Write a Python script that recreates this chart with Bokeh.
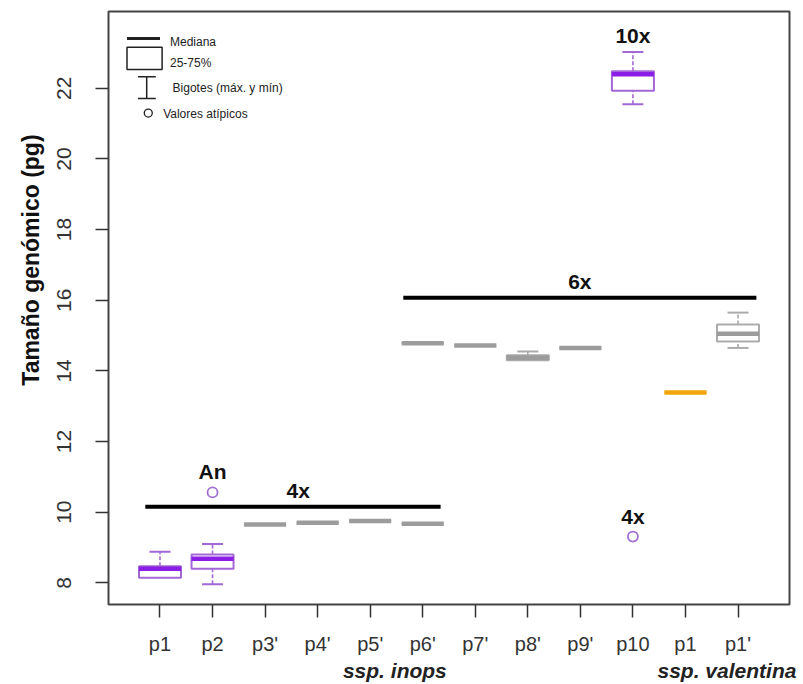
from bokeh.plotting import figure
from bokeh.models import Range1d, FixedTicker, Label, LinearAxis
from bokeh.embed import file_html
from bokeh.resources import INLINE

# ---- data ----
tick_labels = ["p1", "p2", "p3'", "p4'", "p5'", "p6'", "p7'", "p8'", "p9'", "p10", "p1", "p1'"]
box_pos = [1, 2, 3, 4, 5, 6, 6, 7, 8, 9, 10, 11, 12]
box_min = [8.14, 7.96, 9.65, 9.70, 9.75, 9.67, 14.78, 14.72, 14.30, 14.65, 21.55, 13.39, 14.65]
box_q1 = [8.14, 8.40, 9.65, 9.70, 9.75, 9.67, 14.78, 14.72, 14.30, 14.65, 21.93, 13.39, 14.83]
box_med = [8.40, 8.68, 9.65, 9.70, 9.75, 9.67, 14.78, 14.72, 14.37, 14.65, 22.40, 13.39, 15.05]
box_q3 = [8.47, 8.80, 9.65, 9.70, 9.75, 9.67, 14.78, 14.72, 14.44, 14.65, 22.48, 13.39, 15.31]
box_max = [8.88, 9.10, 9.65, 9.70, 9.75, 9.67, 14.78, 14.72, 14.55, 14.65, 23.03, 13.39, 15.65]
box_group = ["purple", "purple", "gray", "gray", "gray", "gray", "gray", "gray", "gray", "gray", "purple", "orange", "gray"]

outlier_pos = [2, 10]
outlier_val = [10.56, 9.31]
outlier_labels = ["An", "4x"]

ploidy_labels = ["4x", "6x"]
ploidy_level = [10.15, 16.07]
ploidy_start = [0.72, 5.63]
ploidy_end = [6.34, 12.35]
ploidy_label_x = [3.63, 8.99]
top_label = "10x"

subspecies = ["ssp. inops", "ssp. valentina"]
subspecies_x = [5.47, 11.79]

y_title = "Tamaño genómico (pg)"
legend_texts = ["Mediana", "25-75%", "Bigotes (máx. y mín)", "Valores atípicos"]

# ---- styles ----
border_col = {"purple": "#a368d6", "gray": "#ababab", "orange": "#f2a50c"}
median_col = {"purple": "#8a1ee6", "gray": "#9c9c9c", "orange": "#f2a50c"}
FONT = "'Liberation Sans', Arial, sans-serif"

p = figure(width=801, height=684, output_backend="svg", toolbar_location=None,
           x_range=Range1d(0.02, 12.98), y_range=Range1d(7.386, 24.175),
           min_border_left=108, min_border_top=11, min_border_right=12, min_border_bottom=71)
p.xgrid.visible = False
p.ygrid.visible = False
p.outline_line_color = "#444444"
p.outline_line_width = 2
p.background_fill_color = "white"

# axes
p.xaxis.ticker = FixedTicker(ticks=list(range(1, len(tick_labels) + 1)))
p.xaxis.major_label_overrides = {i + 1: t for i, t in enumerate(tick_labels)}
p.yaxis.ticker = FixedTicker(ticks=[8, 10, 12, 14, 16, 18, 20, 22])
for ax in (p.xaxis[0], p.yaxis[0]):
    ax.axis_line_color = None
    ax.major_tick_line_color = "#333333"
    ax.major_tick_line_width = 1.5
    ax.major_tick_out = 13
    ax.major_tick_in = 0
    ax.minor_tick_line_color = None
    ax.major_label_text_font = FONT
    ax.major_label_text_color = "#333333"
p.xaxis.major_label_text_font_size = "20px"
p.yaxis.major_label_text_font_size = "21px"
p.xaxis.major_label_standoff = 15
p.yaxis.major_label_orientation = "vertical"
p.yaxis.major_label_standoff = 24
# leading no-break spaces shift the centred title up, as in the reference
p.yaxis.axis_label = "\u00a0" * 15 + y_title
p.yaxis.axis_label_text_font = FONT
p.yaxis.axis_label_text_font_style = "bold"
p.yaxis.axis_label_text_font_size = "23px"
p.yaxis.axis_label_text_color = "#111111"
p.yaxis.axis_label_standoff = 11

# second bottom axis carrying the subspecies names
sub_ax = LinearAxis(ticker=FixedTicker(ticks=subspecies_x),
                    major_label_overrides={x: t for x, t in zip(subspecies_x, subspecies)},
                    axis_line_color=None, major_tick_line_color=None, minor_tick_line_color=None,
                    major_label_text_font=FONT, major_label_text_font_style="bold italic",
                    major_label_text_font_size="21px", major_label_text_color="#222222",
                    major_label_standoff=-5)
p.add_layout(sub_ax, "below")

# ploidy lines
p.segment(x0=ploidy_start, y0=ploidy_level, x1=ploidy_end, y1=ploidy_level,
          line_color="black", line_width=4)
for lab, lx, ly in zip(ploidy_labels, ploidy_label_x, ploidy_level):
    p.add_layout(Label(x=lx, y=ly, text=lab, text_font=FONT, text_font_style="bold",
                       text_font_size="21px", text_align="center", text_baseline="bottom",
                       y_offset=5, text_color="#111111"))

# boxes
bw = 0.8
cw = 0.4
for i in range(len(box_pos)):
    x = box_pos[i]
    g = box_group[i]
    bc = border_col[g]
    mc = median_col[g]
    if box_max[i] > box_q3[i]:
        p.segment(x0=[x], y0=[box_q3[i]], x1=[x], y1=[box_max[i]], line_color=bc, line_width=1.6, line_dash="4 2")
        p.segment(x0=[x - cw / 2], y0=[box_max[i]], x1=[x + cw / 2], y1=[box_max[i]], line_color=bc, line_width=2)
    if box_min[i] < box_q1[i]:
        p.segment(x0=[x], y0=[box_min[i]], x1=[x], y1=[box_q1[i]], line_color=bc, line_width=1.6, line_dash="4 2")
        p.segment(x0=[x - cw / 2], y0=[box_min[i]], x1=[x + cw / 2], y1=[box_min[i]], line_color=bc, line_width=2)
    p.quad(left=[x - bw / 2], right=[x + bw / 2], bottom=[box_q1[i]], top=[box_q3[i]],
           fill_color="white", line_color=bc, line_width=2)
    p.segment(x0=[x - bw / 2], y0=[box_med[i]], x1=[x + bw / 2], y1=[box_med[i]],
              line_color=mc, line_width=4.5)

# outliers
p.scatter(outlier_pos, outlier_val, marker="circle", size=10, fill_color="white",
          line_color="#a070d0", line_width=1.8)
for lab, ox, oy in zip(outlier_labels, outlier_pos, outlier_val):
    p.add_layout(Label(x=ox, y=oy, text=lab, text_font=FONT, text_font_style="bold",
                       text_font_size="21px", text_align="center", text_baseline="bottom",
                       y_offset=9, text_color="#111111"))
p.add_layout(Label(x=box_pos[10], y=box_max[10], text=top_label, text_font=FONT,
                   text_font_style="bold", text_font_size="21px", text_align="center",
                   text_baseline="bottom", y_offset=5, text_color="#111111"))

# legend (drawn manually in the top-left corner)
lx0, lx1 = 0.372, 1.04
p.segment(x0=[lx0], y0=[23.41], x1=[1.0], y1=[23.41], line_color="#222222", line_width=3)
p.quad(left=[lx0], right=[lx1], bottom=[22.53], top=[23.16], fill_color="white",
       line_color="#222222", line_width=1.5)
p.segment(x0=[0.747], y0=[21.71], x1=[0.747], y1=[22.33], line_color="#222222", line_width=1.5)
p.segment(x0=[0.58, 0.58], y0=[21.71, 22.33], x1=[0.92, 0.92], y1=[21.71, 22.33],
          line_color="#222222", line_width=1.5)
p.scatter([0.777], [21.30], marker="circle", size=8, fill_color="white",
          line_color="#222222", line_width=1.3)
for t, tx, ty in zip(legend_texts, [1.19, 1.19, 1.24, 1.06], [23.32, 22.72, 22.0, 21.27]):
    p.add_layout(Label(x=tx, y=ty, text=t, text_font=FONT,
                       text_font_size="12px", text_align="left", text_baseline="middle",
                       text_color="#222222"))

open("out.html", "w").write(file_html(p, INLINE))
